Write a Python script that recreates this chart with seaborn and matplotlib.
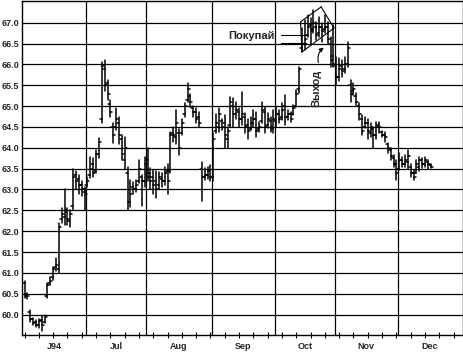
import numpy as np
import pandas as pd
import matplotlib
matplotlib.use("Agg")
import matplotlib.pyplot as plt
import seaborn as sns

# ---------------- data ----------------
start_date = "1994-06-01"
end_date = "1994-12-30"
month_labels = ["J94", "Jul", "Aug", "Sep", "Oct", "Nov", "Dec"]
y_ticks = [60.0, 60.5, 61.0, 61.5, 62.0, 62.5, 63.0, 63.5,
           64.0, 64.5, 65.0, 65.5, 66.0, 66.5, 67.0]

highs = [60.80, 60.52, 60.10, 59.92, 59.88, 59.90, 59.96, 60.00, 60.75, 60.90,
         61.15, 61.35, 62.20, 62.55, 63.00, 62.55, 62.50, 63.50, 63.45, 63.35,
         63.20, 63.05, 63.30, 63.78, 63.75, 63.95, 64.23, 66.06, 66.10, 65.63,
         65.15, 64.60, 64.95, 64.74, 64.30, 64.26, 63.53, 63.22, 63.17, 63.22,
         63.70, 63.35, 63.78, 64.00, 63.52, 63.47, 63.45, 63.43, 63.40, 63.55,
         63.60, 64.38, 64.50, 64.90, 64.45, 64.70, 65.07, 65.56, 65.30, 65.00,
         64.95, 64.85, 63.65, 63.52, 63.55, 63.58, 64.35, 64.80, 64.95, 64.70,
         64.78, 64.50, 65.22, 65.20, 65.10, 64.95, 65.34, 64.83, 64.70, 64.74,
         64.90, 64.85, 64.62, 65.10, 64.97, 64.83, 64.74, 64.90, 64.97, 64.90,
         65.07, 65.26, 64.90, 64.85, 65.03, 65.38, 65.94, 66.87, 67.06, 67.18,
         67.11, 67.30, 67.02, 67.14, 67.00, 67.18, 67.02, 66.66, 66.95, 66.18,
         66.15, 66.10, 66.18, 66.54, 65.63, 65.55, 65.31, 65.07, 64.78, 64.74,
         64.70, 64.60, 64.50, 64.62, 64.62, 64.40, 64.38, 64.12, 64.00, 63.83,
         63.70, 63.88, 63.78, 63.83, 63.95, 63.60, 63.47, 63.70, 63.78, 63.75,
         63.78, 63.70, 63.60]
lows = [60.40, 60.38, 59.82, 59.75, 59.70, 59.68, 59.60, 59.80, 60.40, 60.70,
        60.83, 61.05, 61.00, 62.20, 62.15, 62.15, 62.10, 62.50, 63.00, 62.90,
        62.85, 62.50, 63.05, 63.28, 63.30, 63.40, 63.76, 64.60, 65.35, 65.15,
        64.74, 64.12, 64.43, 64.10, 63.70, 63.50, 62.50, 62.58, 62.90, 62.93,
        63.15, 62.60, 63.06, 63.20, 63.00, 62.90, 62.80, 63.00, 63.05, 63.10,
        62.90, 63.40, 64.15, 64.10, 63.83, 64.30, 64.74, 65.10, 64.97, 64.75,
        64.60, 64.50, 62.73, 63.22, 63.25, 63.20, 63.20, 64.35, 64.38, 64.42,
        64.00, 64.00, 64.50, 64.50, 64.70, 64.50, 64.55, 64.35, 64.20, 64.42,
        64.50, 64.26, 64.38, 64.60, 64.35, 64.47, 64.38, 64.35, 64.50, 64.60,
        64.66, 64.55, 64.66, 64.62, 64.78, 64.97, 65.31, 66.30, 66.35, 66.66,
        66.50, 66.75, 66.58, 66.66, 66.54, 66.75, 66.50, 65.94, 65.94, 65.50,
        65.60, 65.70, 65.80, 65.94, 65.10, 65.26, 65.02, 64.66, 64.30, 64.47,
        64.20, 64.26, 64.00, 64.20, 64.35, 64.25, 64.13, 63.88, 63.70, 63.55,
        63.22, 63.47, 63.54, 63.54, 63.50, 63.30, 63.22, 63.39, 63.45, 63.51,
        63.54, 63.50, 63.52]
closes = [60.45, 60.45, 59.90, 59.80, 59.75, 59.85, 59.75, 59.95, 60.70, 60.80,
          61.10, 61.20, 62.10, 62.40, 62.50, 62.30, 62.40, 63.30, 63.20, 63.10,
          63.00, 62.90, 63.20, 63.50, 63.40, 63.85, 64.15, 65.95, 65.50, 65.30,
          64.85, 64.30, 64.70, 64.30, 63.85, 64.00, 62.70, 62.90, 63.00, 63.10,
          63.50, 63.20, 63.60, 63.30, 63.20, 63.10, 63.00, 63.30, 63.20, 63.40,
          63.20, 64.30, 64.30, 64.60, 64.00, 64.60, 65.00, 65.40, 65.10, 64.85,
          64.70, 64.60, 63.30, 63.35, 63.45, 63.30, 64.20, 64.60, 64.80, 64.50,
          64.30, 64.40, 65.10, 64.80, 64.90, 64.70, 64.80, 64.50, 64.40, 64.60,
          64.70, 64.40, 64.50, 64.90, 64.50, 64.70, 64.50, 64.70, 64.80, 64.70,
          64.90, 64.75, 64.80, 64.70, 64.95, 65.30, 65.90, 66.50, 66.60, 66.90,
          66.80, 67.00, 66.70, 66.90, 66.80, 66.90, 66.60, 66.10, 66.00, 65.70,
          65.90, 65.85, 66.00, 66.40, 65.30, 65.40, 65.10, 64.80, 64.40, 64.60,
          64.40, 64.50, 64.30, 64.50, 64.50, 64.30, 64.25, 64.00, 63.80, 63.60,
          63.40, 63.70, 63.60, 63.70, 63.80, 63.40, 63.30, 63.60, 63.70, 63.60,
          63.70, 63.60, 63.55]
opens = [60.75, 60.50, 60.05, 59.90, 59.82, 59.75, 59.88, 59.82, 60.45, 60.75,
         60.90, 61.15, 61.10, 62.30, 62.35, 62.45, 62.25, 62.60, 63.35, 63.25,
         63.10, 62.95, 63.10, 63.35, 63.60, 63.45, 63.85, 64.70, 65.90, 65.55,
         65.05, 64.50, 64.50, 64.60, 64.20, 63.70, 63.40, 62.70, 63.05, 63.00,
         63.20, 63.30, 63.20, 63.70, 63.40, 63.30, 63.20, 63.10, 63.25, 63.20,
         63.45, 63.45, 64.35, 64.25, 64.35, 64.35, 64.80, 65.15, 65.25, 64.95,
         64.85, 64.75, 63.50, 63.30, 63.35, 63.45, 63.30, 64.40, 64.50, 64.65,
         64.60, 64.20, 64.55, 65.00, 64.80, 64.85, 64.70, 64.75, 64.55, 64.45,
         64.60, 64.70, 64.45, 64.65, 64.85, 64.55, 64.65, 64.45, 64.65, 64.80,
         64.75, 65.00, 64.75, 64.80, 64.80, 65.00, 65.40, 66.40, 66.50, 66.70,
         66.95, 66.85, 66.90, 66.75, 66.90, 66.85, 66.90, 66.50, 66.20, 65.95,
         65.70, 65.95, 65.90, 66.00, 65.50, 65.35, 65.25, 65.00, 64.70, 64.50,
         64.60, 64.35, 64.45, 64.30, 64.55, 64.38, 64.30, 64.10, 63.95, 63.75,
         63.60, 63.50, 63.70, 63.60, 63.65, 63.55, 63.40, 63.40, 63.55, 63.70,
         63.60, 63.65, 63.58]

# ---------------- figure ----------------
sns.set_theme(style="white")
plt.rcParams["font.family"] = ["Liberation Sans", "DejaVu Sans"]

days = pd.bdate_range(start_date, end_date)
n_days = len(days)
month_start = [i for i in range(n_days) if i == 0 or days[i].month != days[i - 1].month]
month_end = month_start[1:] + [n_days]

fig = plt.figure(figsize=(4.64, 3.52), dpi=100)
ax = fig.add_axes([22 / 464, 17 / 352, 441 / 464, 334 / 352])
ax.set_facecolor("white")

# OHLC bar segments
tick = 0.7
rows = []
for i in range(len(highs)):
    rows += [(i, lows[i], 3 * i), (i, highs[i], 3 * i)]
    rows += [(i - tick, opens[i], 3 * i + 1), (i, opens[i], 3 * i + 1)]
    rows += [(i, closes[i], 3 * i + 2), (i + tick, closes[i], 3 * i + 2)]
seg = pd.DataFrame(rows, columns=["day", "price", "seg"])
sns.lineplot(data=seg, x="day", y="price", units="seg", estimator=None,
             sort=False, color="black", lw=1.1, ax=ax, legend=False)

# grid
for y in y_ticks:
    ax.axhline(y, color="black", lw=0.9, zorder=0)
for s in month_start[1:]:
    ax.axvline(s - 0.5, color="black", lw=0.9, zorder=0)

ax.set_xlim(-0.9, 153.3)
ax.set_ylim(59.51, 67.52)

ax.set_yticks(y_ticks)
ax.set_yticklabels([f"{v:.1f}" for v in y_ticks], fontsize=6.5, fontweight="bold")
mid = [(a + b - 1) / 2 for a, b in zip(month_start, month_end)]
ax.set_xticks(mid)
ax.set_xticklabels(month_labels, fontsize=6.5, fontweight="bold")
ax.set_xticks(np.arange(0, n_days, 5), minor=True)
ax.tick_params(axis="x", which="major", length=0, pad=5)
ax.tick_params(axis="x", which="minor", length=4, width=0.8, direction="inout",
               bottom=True, color="black")
ax.tick_params(axis="y", length=0, pad=2)
ax.set_xlabel("")
ax.set_ylabel("")
for sp in ax.spines.values():
    sp.set_color("black")
    sp.set_linewidth(1.0)

# annotations: channel
ax.plot([96.5, 103.7], [67.02, 67.38], color="black", lw=0.8)
ax.plot([97.0, 108.2], [66.30, 66.87], color="black", lw=0.8)
ax.plot([96.5, 97.0], [67.02, 66.30], color="black", lw=0.8)
ax.plot([103.7, 108.2], [67.38, 66.87], color="black", lw=0.8)

# buy label
ax.text(87.6, 66.69, "Покупай", ha="right", va="center", fontsize=8, fontweight="bold")
ax.plot([89.7, 98.4], [66.70, 66.70], color="black", lw=0.8)
ax.plot([89.7, 98.4], [66.52, 66.52], color="black", lw=0.8)

# exit label
ax.text(102.1, 65.43, "Выход", ha="center", va="center", rotation=90,
        fontsize=8, fontweight="bold")
ax.annotate("", xy=(105.4, 66.44), xytext=(103.0, 65.98),
            arrowprops=dict(arrowstyle="-|>", color="black", lw=0.8,
                            mutation_scale=6, connectionstyle="arc3,rad=-0.4"))

fig.savefig("out.png", dpi=100, facecolor="white")
